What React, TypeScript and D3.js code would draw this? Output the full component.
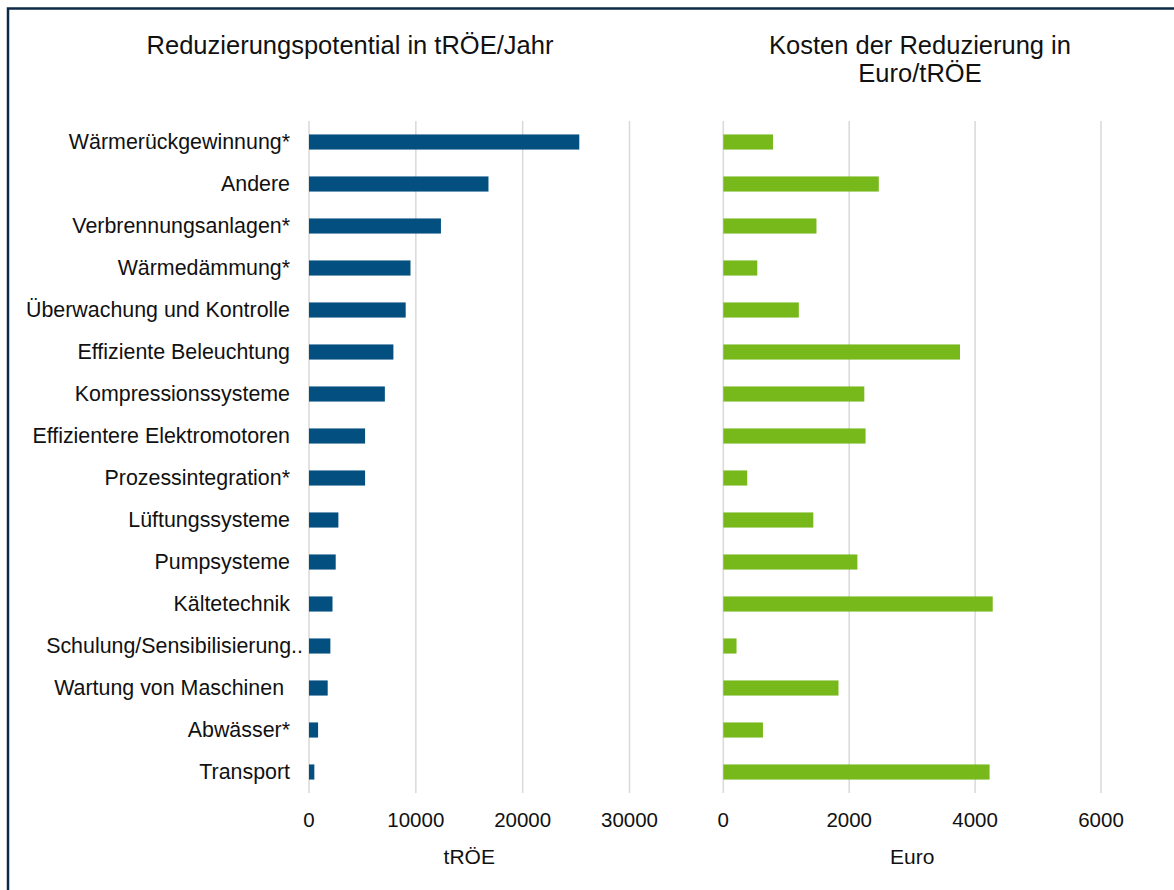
import React from 'react';
import * as d3 from 'd3';

const categories = [
  'Wärmerückgewinnung*',
  'Andere',
  'Verbrennungsanlagen*',
  'Wärmedämmung*',
  'Überwachung und Kontrolle',
  'Effiziente Beleuchtung',
  'Kompressionssysteme',
  'Effizientere Elektromotoren',
  'Prozessintegration*',
  'Lüftungssysteme',
  'Pumpsysteme',
  'Kältetechnik',
  'Schulung/Sensibilisierung..',
  'Wartung von Maschinen ',
  'Abwässer*',
  'Transport',
];

// tRÖE / Jahr
const potential = [25300, 16800, 12350, 9500, 9050, 7900, 7100, 5250, 5250, 2750, 2500, 2200, 2000, 1750, 850, 500];
// Euro / tRÖE
const cost = [790, 2470, 1480, 540, 1200, 3760, 2240, 2260, 380, 1430, 2130, 4280, 210, 1830, 630, 4230];

const potentialTicks = [0, 10000, 20000, 30000];
const costTicks = [0, 2000, 4000, 6000];

const W = 1174;
const H = 890;
const FONT = 'Liberation Sans, Arial, sans-serif';

const App = () => {
  const y = d3.scaleBand<string>()
    .domain(categories)
    .range([121, 793])
    .paddingInner(0.64)
    .paddingOuter(0.32);

  const xLeft = d3.scaleLinear().domain([0, 30000]).range([309, 629.5]);
  const xRight = d3.scaleLinear().domain([0, 6000]).range([723.3, 1101]);

  const panel = (x, ticks, values, color, axisTitle) => (
    <g>
      {ticks.map(t => (
        <line key={'g' + t} x1={x(t)} x2={x(t)} y1={y.range()[0]} y2={y.range()[1]}
          stroke="#d9d9d9" strokeWidth={1.5} />
      ))}
      {values.map((v, i) => (
        <rect key={categories[i]} x={x(0)} y={y(categories[i])}
          width={x(v) - x(0)} height={y.bandwidth()} fill={color} />
      ))}
      {ticks.map(t => (
        <text key={'t' + t} x={x(t)} y={827} textAnchor="middle" fontSize={20.5} fill="#111">{t}</text>
      ))}
      <text x={(x.range()[0] + x.range()[1]) / 2} y={864} textAnchor="middle" fontSize={21} fill="#111">
        {axisTitle}
      </text>
    </g>
  );

  return (
    <div style={{ position: 'absolute', left: 0, top: 0 }}>
      <svg width={W} height={H} style={{ display: 'block', fontFamily: FONT }}>
        <rect x={0} y={0} width={W} height={H} fill="#fff" />
        <rect x={8} y={8.5} width={W + 20} height={H + 20} fill="none" stroke="#0c2a45" strokeWidth={2.5} />

        <text x={350} y={54} textAnchor="middle" fontSize={25.5} fill="#111">
          Reduzierungspotential in tRÖE/Jahr
        </text>
        <text x={920} y={54} textAnchor="middle" fontSize={25.5} fill="#111">
          <tspan x={920}>Kosten der Reduzierung in</tspan>
          <tspan x={920} dy={27.5}>Euro/tRÖE</tspan>
        </text>

        {categories.map(c => (
          <text key={c} x={290} dx={c.endsWith('..') ? 13 : 0}
            y={(y(c) ?? 0) + y.bandwidth() / 2} dy="0.35em"
            textAnchor="end" fontSize={21.4} fill="#111" style={{ whiteSpace: 'pre' }}>
            {c}
          </text>
        ))}

        {panel(xLeft, potentialTicks, potential, '#034f80', 'tRÖE')}
        {panel(xRight, costTicks, cost, '#77b91b', 'Euro')}
      </svg>
    </div>
  );
};

export default App;
